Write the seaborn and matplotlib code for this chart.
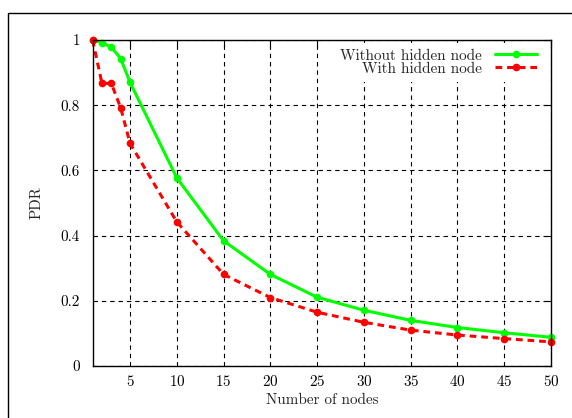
import numpy as np
import pandas as pd
import matplotlib
matplotlib.use("Agg")
import matplotlib.pyplot as plt
import matplotlib.patches as mpatches
import seaborn as sns

nodes = [1, 2, 3, 4, 5, 10, 15, 20, 25, 30, 35, 40, 45, 50]
pdr_without = [1.0, 0.992, 0.978, 0.943, 0.870, 0.577, 0.384, 0.281, 0.211, 0.171, 0.140, 0.118, 0.102, 0.088]
pdr_with = [1.0, 0.867, 0.867, 0.792, 0.683, 0.442, 0.281, 0.210, 0.165, 0.134, 0.110, 0.095, 0.084, 0.074]
labels = ["Without hidden node", "With hidden node"]

df = pd.concat([
    pd.DataFrame({"nodes": nodes, "pdr": pdr_without, "series": labels[0]}),
    pd.DataFrame({"nodes": nodes, "pdr": pdr_with, "series": labels[1]}),
])

sns.set_style("white")
plt.rcParams["font.family"] = ["cmr10", "DejaVu Serif"]
plt.rcParams["axes.formatter.use_mathtext"] = True
plt.rcParams["mathtext.fontset"] = "cm"

fs = 10.9
fig = plt.figure(figsize=(5.72, 4.18), dpi=100)
ax = fig.add_axes([92.6 / 572, 1 - 366 / 418, (551 - 92.6) / 572, (366 - 40) / 418])

sns.lineplot(data=df, x="nodes", y="pdr", hue="series", style="series",
             palette={labels[0]: "#00ff00", labels[1]: "#ff0000"},
             dashes={labels[0]: "", labels[1]: (2.2, 1.6)},
             markers={labels[0]: "o", labels[1]: "o"},
             markersize=5.5, markeredgewidth=0, linewidth=2.2, ax=ax)
for ln in ax.lines:
    ln.set_clip_on(False)

ax.set_xlim(1, 50)
ax.set_ylim(0, 1)
ax.set_xticks(np.arange(5, 51, 5))
ax.set_yticks([0, 0.2, 0.4, 0.6, 0.8, 1.0])
ax.set_yticklabels(["0", "0.2", "0.4", "0.6", "0.8", "1"])
ax.grid(True, color="black", linestyle=(0, (4, 3.5)), linewidth=0.8)
ax.set_axisbelow(True)
for s in ax.spines.values():
    s.set_color("black")
    s.set_linewidth(1.0)
ax.tick_params(direction="in", top=True, right=True, length=5, width=0.8,
               labelsize=fs, colors="black")
ax.tick_params(axis="x", pad=6)
ax.tick_params(axis="y", pad=9)
ax.set_xlabel("Number of nodes", fontsize=fs, labelpad=3)
ax.set_ylabel("PDR", fontsize=fs, labelpad=12)

h, l = ax.get_legend_handles_labels()
leg = ax.legend(h, l, loc="upper right", frameon=True, markerfirst=False,
                fontsize=fs, handlelength=2.8, handletextpad=0.87,
                labelspacing=-0.05, borderaxespad=0.0, borderpad=0.4,
                facecolor="white", edgecolor="none", framealpha=1.0, fancybox=False,
                bbox_to_anchor=(0.9826, 0.9908))

frame = mpatches.Rectangle((8 / 572, -0.2), 1.5, 1 - 13 / 418 + 0.2,
                           transform=fig.transFigure, fill=False,
                           edgecolor="black", linewidth=1.0)
fig.patches.append(frame)

fig.savefig("out.png", dpi=100)
